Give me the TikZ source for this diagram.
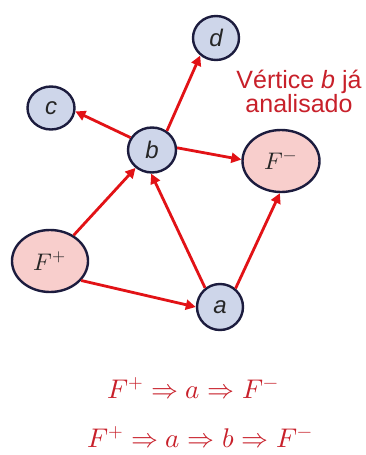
\documentclass[tikz,border=0pt]{standalone}
\usepackage{fontspec}
\usepackage{unicode-math}
\setmathfont{Latin Modern Math}
\setsansfont{Liberation Sans}
\usetikzlibrary{shapes.geometric,arrows.meta}
\definecolor{vfill}{RGB}{206,214,234}
\definecolor{ffill}{RGB}{248,206,204}
\definecolor{vborder}{RGB}{28,28,62}
\definecolor{arrred}{RGB}{226,18,22}
\definecolor{txtred}{RGB}{200,32,42}
\tikzset{
  vtx/.style={ellipse,draw=vborder,line width=2.4pt,fill=vfill,inner sep=0pt,
    font=\sffamily\itshape\fontsize{24}{24}\selectfont,text=black!85},
  fnode/.style={ellipse,draw=vborder,line width=2.4pt,fill=ffill,inner sep=0pt,
    font=\fontsize{24}{24}\selectfont,text=black!85},
  arr/.style={draw=arrred,line width=2.8pt,-{Triangle[length=10pt,width=10pt]}},
  note/.style={text=txtred,font=\sffamily\fontsize{25}{26}\selectfont,align=center},
  formula/.style={text=txtred,font=\fontsize{27}{27}\selectfont}
}
\begin{document}
\begin{tikzpicture}[x=1pt,y=-1pt]
\useasboundingbox (0,0) rectangle (366,455);
\fill[white] (0,0) rectangle (366,455);
\node[vtx,minimum width=46pt,minimum height=44pt] (d) at (216,38) {d};
\node[vtx,minimum width=47pt,minimum height=43pt] (c) at (51,108) {c};
\node[vtx,minimum width=48pt,minimum height=45pt] (b) at (152,150) {b};
\node[fnode,minimum width=77pt,minimum height=62pt] (Fm) at (281,161) {$F^-$};
\node[fnode,minimum width=76pt,minimum height=62pt] (Fp) at (50,261) {$F^+$};
\node[vtx,minimum width=46pt,minimum height=46pt] (a) at (220,307) {a};
\draw[arr] (b.150) -- (c.352);
\draw[arr] (b.52) -- (d.228);
\draw[arr] (b.5) -- (Fm.178);
\draw[arr] (Fp) -- (b);
\draw[arr] (a.128) -- (b.268);
\draw[arr] (a.50) -- (Fm.268);
\draw[arr] (Fp.328) -- (a.180);
\node[note,anchor=base] (t1) at (299,88) {Vértice \textit{b} já};
\node[note,anchor=base] (t2) at (299,112) {analisado};
\node[formula,anchor=base] (f1) at (193,398) {$F^+ \Rightarrow a \Rightarrow F^-$};
\node[formula,anchor=base] (f2) at (200,447) {$F^+ \Rightarrow a \Rightarrow b \Rightarrow F^-$};
\end{tikzpicture}
\end{document}
